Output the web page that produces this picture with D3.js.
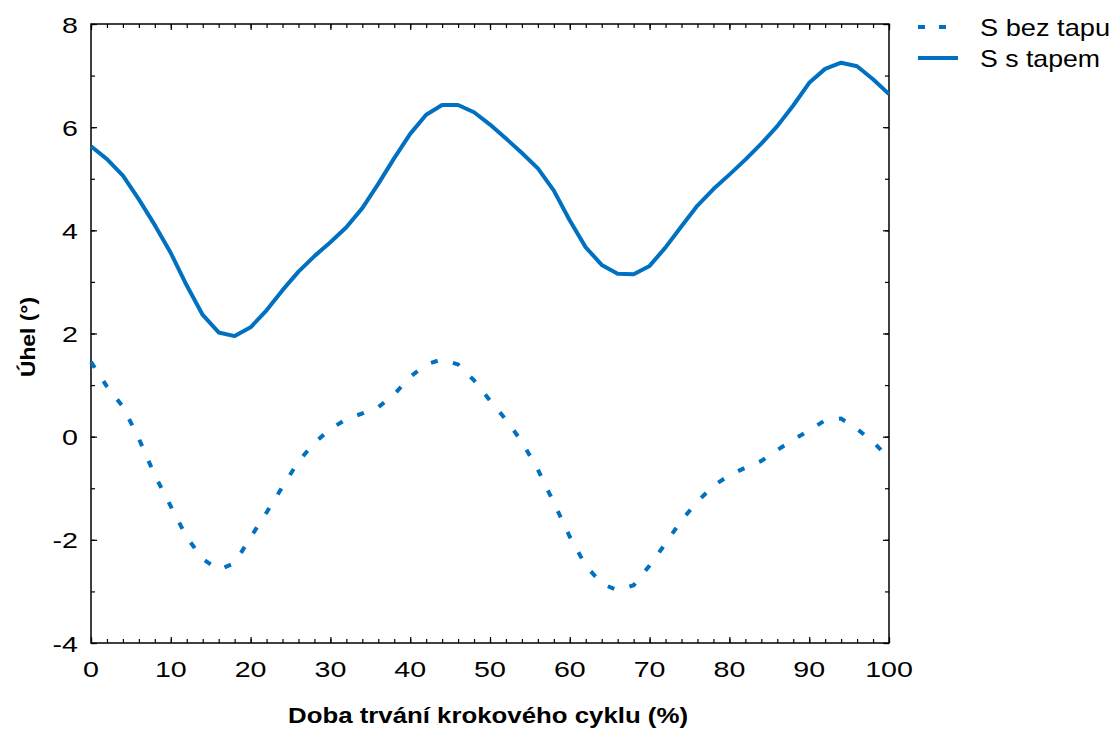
<!DOCTYPE html>
<html><head><meta charset="utf-8">
<script src="https://cdn.jsdelivr.net/npm/d3@7"></script>
<style>body{margin:0;background:#fff}svg{display:block}text{font-family:"Liberation Sans",Arial,sans-serif}</style>
</head><body>
<svg id="c" width="1114" height="729"></svg>
<script>
const xValues = [0,2,4,6,8,10,12,14,16,18,20,22,24,26,28,30,32,34,36,38,40,42,44,46,48,50,52,54,56,58,60,62,64,66,68,70,72,74,76,78,80,82,84,86,88,90,92,94,96,98,100];
const sBezTapu = [1.45,0.97,0.58,-0.04,-0.75,-1.35,-1.95,-2.37,-2.58,-2.45,-1.95,-1.47,-0.97,-0.48,-0.12,0.15,0.34,0.45,0.57,0.82,1.16,1.40,1.50,1.40,1.09,0.70,0.33,-0.10,-0.64,-1.28,-1.94,-2.50,-2.85,-2.98,-2.88,-2.50,-2.07,-1.62,-1.26,-0.95,-0.75,-0.60,-0.47,-0.26,-0.06,0.12,0.32,0.35,0.15,-0.10,-0.42];
const sSTapem = [5.63,5.38,5.06,4.60,4.10,3.56,2.93,2.36,2.02,1.95,2.12,2.45,2.84,3.20,3.50,3.77,4.06,4.43,4.90,5.40,5.87,6.24,6.43,6.43,6.29,6.05,5.78,5.50,5.20,4.77,4.19,3.67,3.33,3.16,3.15,3.31,3.67,4.08,4.48,4.80,5.08,5.37,5.68,6.02,6.42,6.86,7.13,7.25,7.18,6.93,6.64];
const xTickLabels = [0,10,20,30,40,50,60,70,80,90,100];
const yTickLabels = [-4,-2,0,2,4,6,8];
const seriesNames = ["S bez tapu","S s tapem"];
const color = "#0070c0";

const svg = d3.select("#c");
const L=91, R=889, T=24, B=643;
const x = d3.scaleLinear().domain([0,100]).range([L,R]);
const y = d3.scaleLinear().domain([-4,8]).range([B,T]);

const g = svg.append("g");
g.append("rect").attr("x",L).attr("y",T).attr("width",R-L).attr("height",B-T)
  .attr("fill","none").attr("stroke","#000").attr("stroke-width",1.5);

const xMinor = d3.range(0,101,2), yMinor = d3.range(-4,8.01,1);
function styleAxis(sel){ sel.select(".domain").remove(); sel.selectAll("line").attr("stroke","#000").attr("stroke-width",1.2); sel.selectAll("text").remove(); }
g.append("g").attr("transform",`translate(0,${B})`).call(d3.axisBottom(x).tickValues(xMinor).tickSize(-4)).call(styleAxis);
g.append("g").attr("transform",`translate(0,${B})`).call(d3.axisBottom(x).tickValues(xTickLabels).tickSize(-6)).call(styleAxis);
g.append("g").attr("transform",`translate(0,${T})`).call(d3.axisTop(x).tickValues(xMinor).tickSize(-4)).call(styleAxis);
g.append("g").attr("transform",`translate(0,${T})`).call(d3.axisTop(x).tickValues(xTickLabels).tickSize(-6)).call(styleAxis);
g.append("g").attr("transform",`translate(${L},0)`).call(d3.axisLeft(y).tickValues(yMinor).tickSize(-4)).call(styleAxis);
g.append("g").attr("transform",`translate(${L},0)`).call(d3.axisLeft(y).tickValues(yTickLabels).tickSize(-6)).call(styleAxis);
g.append("g").attr("transform",`translate(${R},0)`).call(d3.axisRight(y).tickValues(yMinor).tickSize(-4)).call(styleAxis);
g.append("g").attr("transform",`translate(${R},0)`).call(d3.axisRight(y).tickValues(yTickLabels).tickSize(-6)).call(styleAxis);

// tick labels (horizontally stretched like the original)
const SX = 1.3;
g.selectAll(".xl").data(xTickLabels).join("text")
  .attr("transform",d=>`translate(${x(d)},677) scale(${SX},1)`)
  .attr("text-anchor","middle").attr("font-size",22).text(d=>d);
g.selectAll(".yl").data(yTickLabels).join("text")
  .attr("transform",d=>`translate(78,${y(d)+8.5}) scale(${SX},1)`)
  .attr("text-anchor","end").attr("font-size",22).text(d=>d);

// axis titles
svg.append("text").attr("x",288).attr("y",723)
  .attr("font-size",22).attr("font-weight","bold")
  .attr("textLength",400).attr("lengthAdjust","spacingAndGlyphs")
  .text("Doba trvání krokového cyklu (%)");
svg.append("text").attr("transform","translate(35,377) rotate(-90)")
  .attr("font-size",21).attr("font-weight","bold")
  .attr("textLength",80).attr("lengthAdjust","spacingAndGlyphs")
  .text("Úhel (°)");

// lines
const line = d3.line().x((d,i)=>x(xValues[i])).y(d=>y(d));
svg.append("path").datum(sBezTapu).attr("d",line).attr("fill","none").attr("stroke",color)
  .attr("stroke-width",4).attr("stroke-dasharray","7,16");
svg.append("path").datum(sSTapem).attr("d",line).attr("fill","none").attr("stroke",color)
  .attr("stroke-width",4).attr("stroke-linejoin","round");

// legend
const lg = svg.append("g");
lg.append("line").attr("x1",918).attr("x2",947).attr("y1",27).attr("y2",27).attr("stroke",color)
  .attr("stroke-width",4).attr("stroke-dasharray","7,14");
lg.append("line").attr("x1",918).attr("x2",958).attr("y1",58).attr("y2",58).attr("stroke",color).attr("stroke-width",4);
const legendLens = [130,120];
lg.selectAll(".lt").data(seriesNames).join("text").attr("x",980).attr("y",(d,i)=>36+i*31)
  .attr("font-size",24).attr("textLength",(d,i)=>legendLens[i]).attr("lengthAdjust","spacingAndGlyphs")
  .text(d=>d);
</script>
</body></html>
